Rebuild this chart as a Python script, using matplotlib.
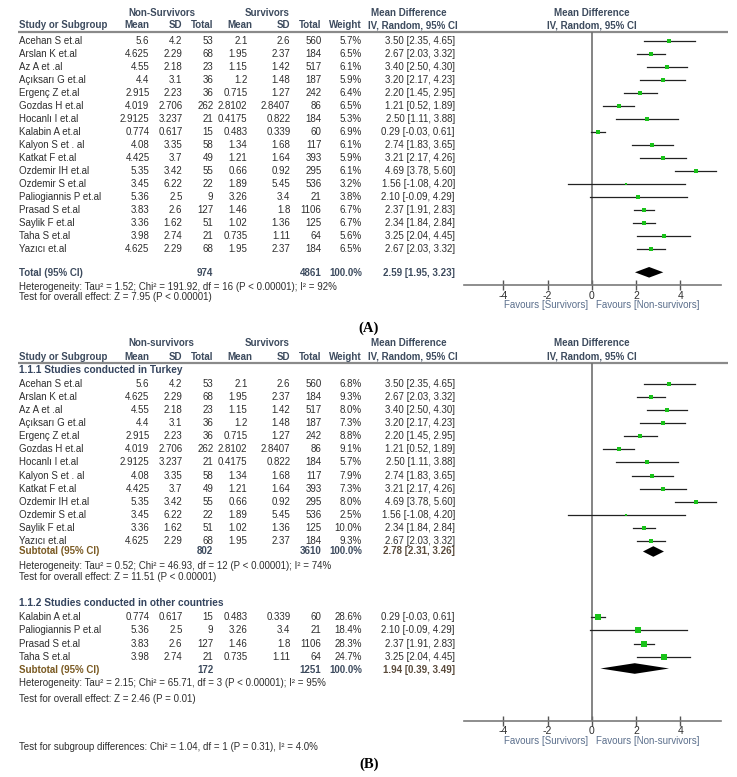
import matplotlib
matplotlib.use("Agg")
import matplotlib.pyplot as plt
from matplotlib.ticker import FixedLocator, FixedFormatter

plt.rcParams['font.family'] = ['Liberation Sans', 'DejaVu Sans']
plt.rcParams['axes.unicode_minus'] = False

# ---------------- data ----------------
studies_a = ["Acehan S et.al", "Arslan K et.al", "Az A et .al", "Açıksarı G et.al", "Ergenç Z et.al",
             "Gozdas H et.al", "Hocanlı I et.al", "Kalabin A et.al", "Kalyon S et . al", "Katkat F et.al",
             "Ozdemir IH et.al", "Ozdemir S et.al", "Paliogiannis P et.al", "Prasad S et.al",
             "Saylik F et.al", "Taha S et.al", "Yazıcı et.al"]
ns_mean = [5.6, 4.625, 4.55, 4.4, 2.915, 4.019, 2.9125, 0.774, 4.08, 4.425, 5.35, 3.45, 5.36, 3.83, 3.36, 3.98, 4.625]
ns_sd = [4.2, 2.29, 2.18, 3.1, 2.23, 2.706, 3.237, 0.617, 3.35, 3.7, 3.42, 6.22, 2.5, 2.6, 1.62, 2.74, 2.29]
ns_n = [53, 68, 23, 36, 36, 262, 21, 15, 58, 49, 55, 22, 9, 127, 51, 21, 68]
s_mean = [2.1, 1.95, 1.15, 1.2, 0.715, 2.8102, 0.4175, 0.483, 1.34, 1.21, 0.66, 1.89, 3.26, 1.46, 1.02, 0.735, 1.95]
s_sd = [2.6, 2.37, 1.42, 1.48, 1.27, 2.8407, 0.822, 0.339, 1.68, 1.64, 0.92, 5.45, 3.4, 1.8, 1.36, 1.11, 2.37]
s_n = [560, 184, 517, 187, 242, 86, 184, 60, 117, 393, 295, 536, 21, 1106, 125, 64, 184]
weight_a = [5.7, 6.5, 6.1, 5.9, 6.4, 6.5, 5.3, 6.9, 6.1, 5.9, 6.1, 3.2, 3.8, 6.7, 6.7, 5.6, 6.5]
md = [3.50, 2.67, 3.40, 3.20, 2.20, 1.21, 2.50, 0.29, 2.74, 3.21, 4.69, 1.56, 2.10, 2.37, 2.34, 3.25, 2.67]
md_lo = [2.35, 2.03, 2.50, 2.17, 1.45, 0.52, 1.11, -0.03, 1.83, 2.17, 3.78, -1.08, -0.09, 1.91, 1.84, 2.04, 2.03]
md_hi = [4.65, 3.32, 4.30, 4.23, 2.95, 1.89, 3.88, 0.61, 3.65, 4.26, 5.60, 4.20, 4.29, 2.83, 2.84, 4.45, 3.32]

total_a = {"n1": 974, "n2": 4861, "md": 2.59, "lo": 1.95, "hi": 3.23}
het_a = "Heterogeneity: Tau² = 1.52; Chi² = 191.92, df = 16 (P < 0.00001); I² = 92%"
eff_a = "Test for overall effect: Z = 7.95 (P < 0.00001)"

# panel B subgroups (indices into the study lists above)
turkey_idx = [0, 1, 2, 3, 4, 5, 6, 8, 9, 10, 11, 14, 16]
turkey_w = [6.8, 9.3, 8.0, 7.3, 8.8, 9.1, 5.7, 7.9, 7.3, 8.0, 2.5, 10.0, 9.3]
other_idx = [7, 12, 13, 15]
other_w = [28.6, 18.4, 28.3, 24.7]
sub1 = {"title": "1.1.1 Studies conducted in Turkey", "n1": 802, "n2": 3610, "md": 2.78, "lo": 2.31, "hi": 3.26,
        "het": "Heterogeneity: Tau² = 0.52; Chi² = 46.93, df = 12 (P < 0.00001); I² = 74%",
        "eff": "Test for overall effect: Z = 11.51 (P < 0.00001)"}
sub2 = {"title": "1.1.2 Studies conducted in other countries", "n1": 172, "n2": 1251, "md": 1.94, "lo": 0.39, "hi": 3.49,
        "het": "Heterogeneity: Tau² = 2.15; Chi² = 65.71, df = 3 (P < 0.00001); I² = 95%",
        "eff": "Test for overall effect: Z = 2.46 (P = 0.01)"}
subgroup_diff = "Test for subgroup differences: Chi² = 1.04, df = 1 (P = 0.31), I² = 4.0%"

ticks = [-4, -2, 0, 2, 4]
tick_labels = ["-4", "-2", "0", "2", "4"]
xlim = (-5.78, 5.84)

# ---------------- figure ----------------
W, H = 737, 777
fig = plt.figure(figsize=(W / 100, H / 100), dpi=100)
bg = fig.add_axes([0, 0, 1, 1])
bg.set_xlim(0, W)
bg.set_ylim(H, 0)
bg.axis("off")

FS = 7.0
HDR = "#3d4b5e"
TXT = "#2e2e2e"
FAV = "#5b6f8c"
SUBC = "#7a5a22"
GREEN = "#19c219"

# column right edges (px)
col_mean1, col_sd1, col_n1 = 149.5, 182.5, 213.5
col_mean2, col_sd2, col_n2, col_w = 247.5, 290.5, 321.5, 362
col_md = 455
x_name = 19
X_PL, X_PR = 464, 721


def t(x, y, s, ha="left", bold=False, color=TXT, fs=FS, **kw):
    bg.text(x, y, s, ha=ha, va="center", fontsize=fs, fontweight="bold" if bold else "normal",
            color=color, **kw)


def fmt(v):
    return f"{v:g}"


def header(y1, y2, yline, ns_label):
    t(161.5, y1, ns_label, ha="center", bold=True, color=HDR)
    t(267.5, y1, "Survivors", ha="center", bold=True, color=HDR)
    t(409, y1, "Mean Difference", ha="center", bold=True, color=HDR)
    t(591.5, y1, "Mean Difference", ha="center", bold=True, color=HDR)
    t(x_name, y2, "Study or Subgroup", bold=True, color=HDR)
    t(col_mean1, y2, "Mean", ha="right", bold=True, color=HDR)
    t(col_sd1, y2, "SD", ha="right", bold=True, color=HDR)
    t(col_n1, y2, "Total", ha="right", bold=True, color=HDR)
    t(252.5, y2, "Mean", ha="right", bold=True, color=HDR)
    t(col_sd2, y2, "SD", ha="right", bold=True, color=HDR)
    t(col_n2, y2, "Total", ha="right", bold=True, color=HDR)
    t(col_w, y2, "Weight", ha="right", bold=True, color=HDR)
    t(413, y2, "IV, Random, 95% CI", ha="center", bold=True, color=HDR)
    t(591.5, y2, "IV, Random, 95% CI", ha="center", bold=True, color=HDR)
    bg.plot([18, 728], [yline, yline], color="#8a8a8a", lw=1.6, solid_capstyle="butt")


def study_row(y, i, w):
    t(x_name, y, studies_a[i])
    t(col_mean1, y, fmt(ns_mean[i]), ha="right")
    t(col_sd1, y, fmt(ns_sd[i]), ha="right")
    t(col_n1, y, str(ns_n[i]), ha="right")
    t(col_mean2, y, fmt(s_mean[i]), ha="right")
    t(col_sd2, y, fmt(s_sd[i]), ha="right")
    t(col_n2, y, str(s_n[i]), ha="right")
    t(col_w, y, f"{w:.1f}%", ha="right")
    t(col_md, y, f"{md[i]:.2f} [{md_lo[i]:.2f}, {md_hi[i]:.2f}]", ha="right")


def forest_axes(ytop, yaxis):
    ax = fig.add_axes([X_PL / W, 1 - yaxis / H, (X_PR - X_PL) / W, (yaxis - ytop) / H])
    ax.set_xlim(*xlim)
    ax.set_ylim(yaxis, ytop)
    ax.patch.set_alpha(0)
    for s in ("top", "left", "right"):
        ax.spines[s].set_visible(False)
    ax.spines["bottom"].set_color("#7a7a7a")
    ax.spines["bottom"].set_linewidth(1.2)
    ax.yaxis.set_visible(False)
    ax.xaxis.set_major_locator(FixedLocator(ticks))
    ax.xaxis.set_major_formatter(FixedFormatter(tick_labels))
    ax.tick_params(axis="x", direction="inout", length=7, width=1, color="#555555",
                   labelsize=FS + 0.5, labelcolor=TXT, pad=0.3)
    ax.axvline(0, color="#6f6f6f", lw=1.2)
    return ax


def plot_study(ax, y, i, w):
    ax.plot([md_lo[i], md_hi[i]], [y, y], color="#222222", lw=0.9, clip_on=False)
    side = 1.3 + 0.9 * w ** 0.5
    ax.plot([md[i]], [y], marker="s", color=GREEN, markersize=side * 0.72, mew=0, clip_on=False)


def diamond(ax, y, est, lo, hi, h=5.3):
    ax.fill([lo, est, hi, est], [y, y - h, y, y + h], color="black", lw=0, clip_on=False)


# ================= Panel A =================
header(12.7, 25.3, 31.7, "Non-Survivors")
axA = forest_axes(31.7, 285.3)
y0, dy = 40.6, 13.02
for k in range(len(studies_a)):
    y = y0 + k * dy
    study_row(y, k, weight_a[k])
    plot_study(axA, y, k, weight_a[k])
yt = 272.8
t(x_name, yt, "Total (95% CI)", bold=True, color=HDR)
t(col_n1, yt, str(total_a["n1"]), ha="right", bold=True, color=HDR)
t(col_n2, yt, str(total_a["n2"]), ha="right", bold=True, color=HDR)
t(col_w, yt, "100.0%", ha="right", bold=True, color=HDR)
t(col_md, yt, f"{total_a['md']:.2f} [{total_a['lo']:.2f}, {total_a['hi']:.2f}]", ha="right", bold=True, color=HDR)
diamond(axA, yt - 0.5, total_a["md"], total_a["lo"], total_a["hi"])
t(x_name, 287.3, het_a)
t(x_name, 297.0, eff_a)
t(588, 305.3, "Favours [Survivors]", ha="right", color=FAV)
t(596, 305.3, "Favours [Non-survivors]", ha="left", color=FAV)
bg.text(369, 328, "(A)", ha="center", va="center", fontsize=10.5, family="Liberation Serif",
        fontweight="bold", color="black")

# ================= Panel B =================
header(343.3, 356.7, 362.7, "Non-survivors")
axB = forest_axes(362.7, 721)


def subgroup(sub, idx, wts, ytitle, yrow0, step, ysub, ydia, yhet, yeff):
    t(x_name, ytitle, sub["title"], bold=True, color="#34445e", fs=FS + 0.3)
    for k, (i, w) in enumerate(zip(idx, wts)):
        y = yrow0 + k * step
        study_row(y, i, w)
        plot_study(axB, y, i, w)
    t(x_name, ysub, "Subtotal (95% CI)", bold=True, color=SUBC)
    t(col_n1, ysub, str(sub["n1"]), ha="right", bold=True, color=HDR)
    t(col_n2, ysub, str(sub["n2"]), ha="right", bold=True, color=HDR)
    t(col_w, ysub, "100.0%", ha="right", bold=True, color=HDR)
    t(col_md, ysub, f"{sub['md']:.2f} [{sub['lo']:.2f}, {sub['hi']:.2f}]", ha="right", bold=True, color="#5a4a3a")
    diamond(axB, ydia, sub["md"], sub["lo"], sub["hi"])
    t(x_name, yhet, sub["het"])
    t(x_name, yeff, sub["eff"])


subgroup(sub1, turkey_idx, turkey_w, 370.0, 384.3, 13.03, 550.7, 551.5, 566.0, 577.5)
subgroup(sub2, other_idx, other_w, 603.3, 617.0, 13.3, 670.0, 668.5, 683.5, 699.3)
t(x_name, 747.3, subgroup_diff)
t(588, 740.7, "Favours [Survivors]", ha="right", color=FAV)
t(596, 740.7, "Favours [Non-survivors]", ha="left", color=FAV)
bg.text(369, 764, "(B)", ha="center", va="center", fontsize=10.5, family="Liberation Serif",
        fontweight="bold", color="black")

fig.savefig("out.png", dpi=100)
